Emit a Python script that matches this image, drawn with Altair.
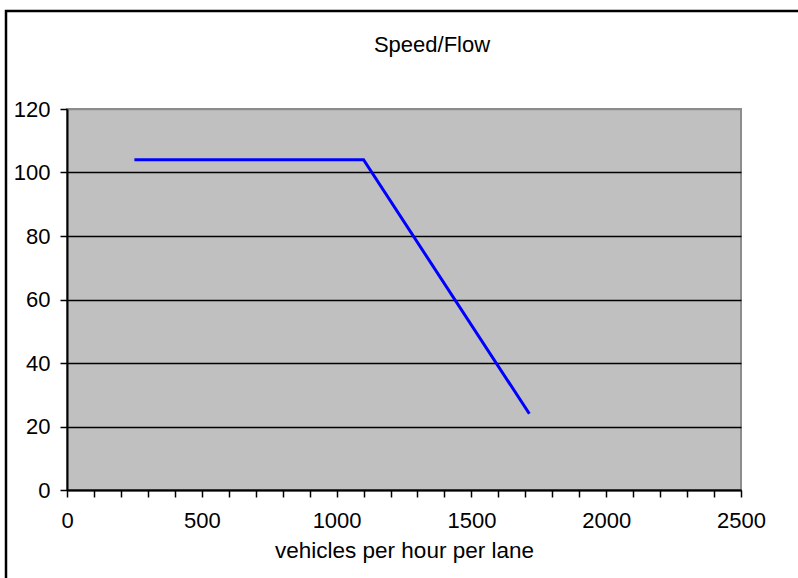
import altair as alt
import pandas as pd

# Speed-flow relationship (vehicles per hour per lane vs speed)
flow = [250, 1100, 1715]
speed = [104, 104, 24]

x_ticks = list(range(0, 2600, 100))
y_ticks = [0, 20, 40, 60, 80, 100, 120]

FONT = "Liberation Sans"

df = pd.DataFrame({"flow": flow, "speed": speed})

x_scale = alt.Scale(domain=[0, 2500], nice=False, zero=False)
y_scale = alt.Scale(domain=[0, 120], nice=False)

line = alt.Chart(df).mark_line(color="#0000ff", strokeWidth=3, clip=True).encode(
    x=alt.X(
        "flow:Q",
        scale=x_scale,
        axis=alt.Axis(
            values=x_ticks,
            labelExpr="datum.value % 500 == 0 ? datum.label : ''",
            format="d",
            title="vehicles per hour per lane",
            grid=False,
            tickSize=7,
            tickWidth=1.5,
            tickColor="black",
            domainColor="black",
            domainWidth=2,
            labelFontSize=22,
            labelFont=FONT,
            labelColor="black",
            labelPadding=13,
            labelFlush=False,
            labelOverlap=False,
            titleFontSize=22.5,
            titleFont=FONT,
            titleFontWeight="normal",
            titleColor="black",
            titlePadding=8,
        ),
    ),
    y=alt.Y(
        "speed:Q",
        scale=y_scale,
        axis=alt.Axis(
            values=y_ticks,
            title=None,
            grid=True,
            gridColor={"condition": {"test": "datum.value >= 120", "value": "#8c8c8c"}, "value": "black"},
            gridWidth=1.6,
            tickSize=7,
            tickWidth=1.5,
            tickColor="black",
            domainColor="black",
            domainWidth=2,
            labelFontSize=22,
            labelFont=FONT,
            labelColor="black",
            labelPadding=10,
            labelFlush=False,
            labelOverlap=False,
        ),
    ),
)

# Outer frame around the whole figure
frame = alt.Chart(pd.DataFrame({"k": [0]})).mark_rect(
    fill=None, stroke="black", strokeWidth=2.5, clip=False
).encode(
    x=alt.value(-61), x2=alt.value(745),
    y=alt.value(-98), y2=alt.value(485),
)

chart = alt.layer(line, frame).properties(
    width=674,
    height=381,
    padding={"left": 67, "top": 109, "right": 57, "bottom": 88},
    autosize=alt.AutoSizeParams(type="none"),
    background="white",
    title=alt.TitleParams(
        "Speed/Flow",
        font=FONT,
        fontSize=22,
        fontWeight="normal",
        color="black",
        anchor="middle",
        dx=28,
        offset=-47,
    ),
).configure_view(
    fill="#c0c0c0",
    stroke="#8c8c8c",
    strokeWidth=2,
)

chart.save("out.html", embed_options={"renderer": "svg", "actions": False})
